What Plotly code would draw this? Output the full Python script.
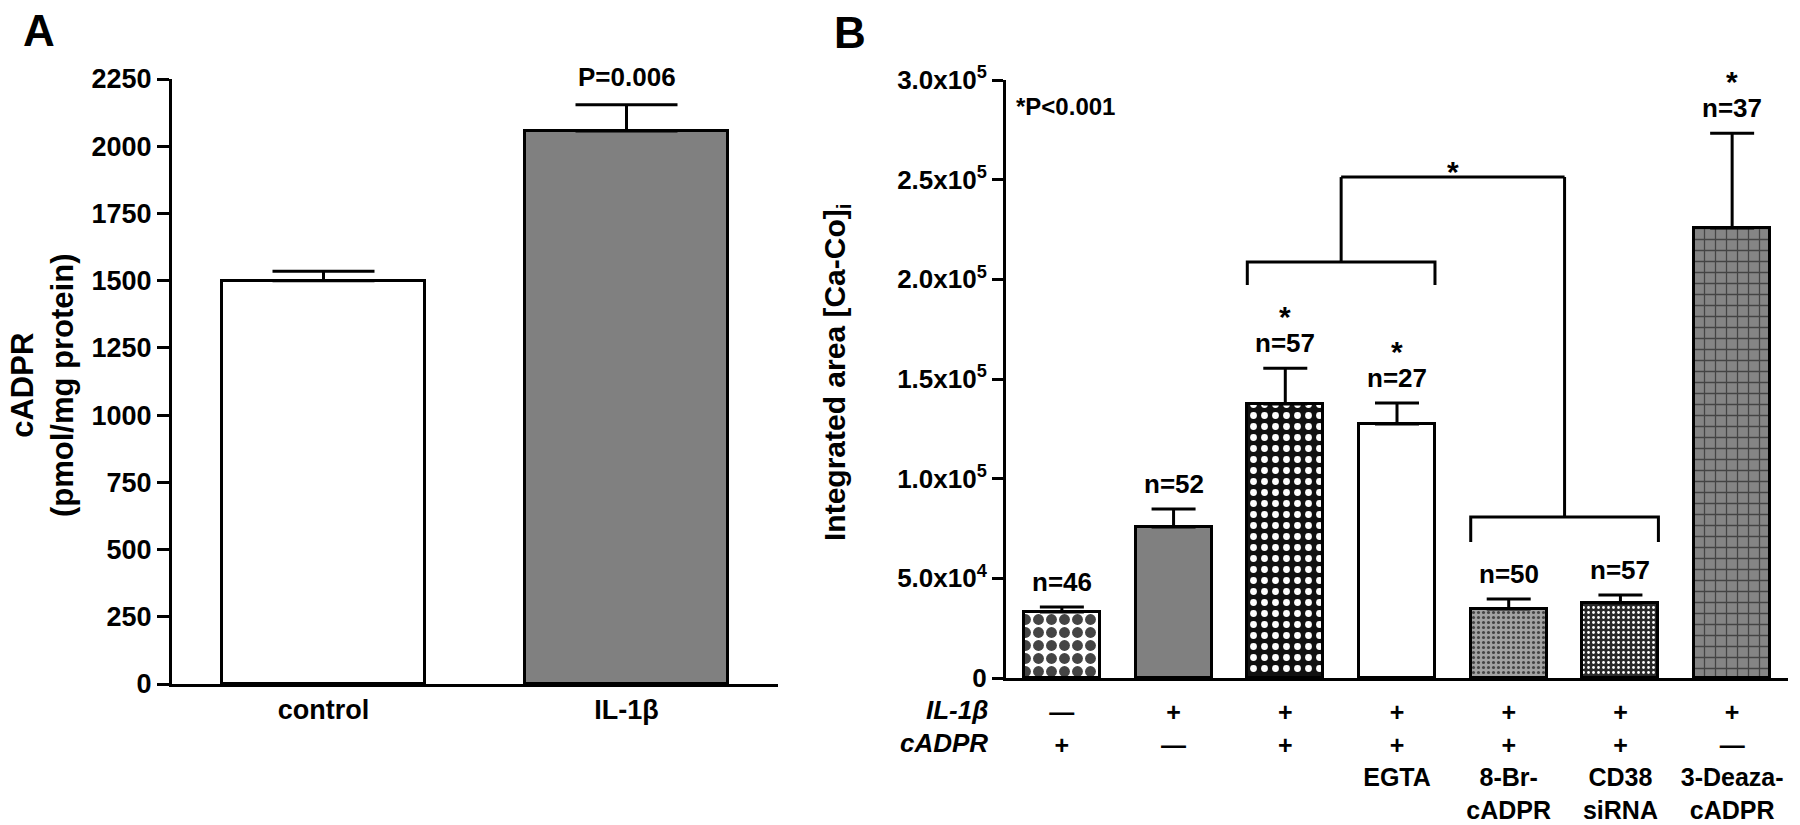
import plotly.graph_objects as go

# panel A data
groupsA = ['control', 'IL-1β']
meanA = [1500, 2057]
semA = [35, 97]
pLabelA = 'P=0.006'
ticksA = [0, 250, 500, 750, 1000, 1250, 1500, 1750, 2000, 2250]

# panel B data
meanB = [33100, 75700, 137400, 127400, 34600, 37600, 225700]
semB = [2500, 9100, 18000, 10500, 5000, 4000, 47600]
nLabels = ['n=46', 'n=52', 'n=57', 'n=27', 'n=50', 'n=57', 'n=37']
starred = [False, False, True, True, False, False, True]
il1b = ['—', '+', '+', '+', '+', '+', '+']
cadpr = ['+', '—', '+', '+', '+', '+', '—']
extra = ['', '', '', 'EGTA', '8-Br-<br>cADPR', 'CD38<br>siRNA', '3-Deaza-<br>cADPR']
ticksB = [0, 50000, 100000, 150000, 200000, 250000, 300000]
tickTextB = ['0', '5.0x10<sup>4</sup>', '1.0x10<sup>5</sup>', '1.5x10<sup>5</sup>',
             '2.0x10<sup>5</sup>', '2.5x10<sup>5</sup>', '3.0x10<sup>5</sup>']

# comparison brackets: (first bar, last bar), bar-level y, drop y
brackets = [(2, 3), (4, 5)]
bracketY = [208700, 80800]
bracketDrop = [197200, 68200]
bracketTop = 251300

FONT = 'Liberation Sans, Arial, sans-serif'
W, H = 1800, 825
barW = 0.68

fig = go.Figure()

fig.add_trace(go.Bar(
    x=[0, 1], y=meanA, width=0.667,
    marker=dict(color=['white', '#808080'], line=dict(color='black', width=3)),
    error_y=dict(type='data', symmetric=False, array=semA, arrayminus=[0, 0],
                 color='black', thickness=3, width=51),
    xaxis='x', yaxis='y', showlegend=False))

fig.add_trace(go.Bar(
    x=list(range(len(meanB))), y=meanB, width=barW,
    marker=dict(
        color=['white', '#808080', '#111111', 'white', '#a2a2a2', '#2a2a2a', '#858585'],
        line=dict(color='black', width=3),
        pattern=dict(
            shape=['.', '', '.', '', '.', '.', '+'],
            fgcolor=['black', '#808080', '#6a6a6a', 'white', '#3a3a3a', '#9a9a9a', 'black'],
            fgopacity=1,
            size=[13, 8, 11, 8, 5, 5, 11],
            solidity=[0.55, 0.3, 0.3, 0.3, 0.3, 0.25, 0.22],
            fillmode='overlay')),
    error_y=dict(type='data', symmetric=False, array=semB, arrayminus=[0] * len(semB),
                 color='black', thickness=3, width=22),
    xaxis='x2', yaxis='y2', showlegend=False))


def txt(text, x, y, size, xref='paper', yref='paper', **kw):
    d = dict(text=text, x=x, y=y, xref=xref, yref=yref, showarrow=False,
             xanchor='center', yanchor='middle',
             font=dict(size=size, family=FONT, color='black'))
    d.update(kw)
    return d


ann = []
# panel letters
ann.append(txt('<b>A</b>', 39 / W, 1 - 30 / H, 44))
ann.append(txt('<b>B</b>', 850 / W, 1 - 32 / H, 44))
# y titles
ann.append(txt('<b>cADPR<br>(pmol/mg protein)</b>', 42 / W, 1 - 386 / H, 31, textangle=-90))
ann.append(txt('<b>Integrated area [Ca-Co]<sub>i</sub></b>', 836 / W, 1 - 372 / H, 30,
               textangle=-90))
# P value panel A
ann.append(txt('<b>' + pLabelA + '</b>', 1, meanA[1] + semA[1], 26, 'x', 'y', yshift=28))
# P note panel B
ann.append(txt('<b>*P<0.001</b>', 1014 / W, 1 - 107 / H, 24, xanchor='left'))
# n labels and stars
for i, (m, s) in enumerate(zip(meanB, semB)):
    ann.append(txt('<b>' + nLabels[i] + '</b>', i, m + s, 26, 'x2', 'y2', yshift=25))
    if starred[i]:
        ann.append(txt('<b>*</b>', i, m + s, 30, 'x2', 'y2', yshift=52))
# row headers
for label, py in [('IL-1β', 710), ('cADPR', 743)]:
    ann.append(txt('<b><i>' + label + '</i></b>', 990 / W, 1 - py / H, 26, xanchor='right'))

# brackets
shapes = []
mids = []
for (a, b), yb, yd in zip(brackets, bracketY, bracketDrop):
    x0 = a - barW / 2
    x1 = b + barW / 2
    mids.append((x0 + x1) / 2)
    shapes.append(dict(type='path', xref='x2', yref='y2',
                       path=f'M {x0} {yd} L {x0} {yb} L {x1} {yb} L {x1} {yd}',
                       line=dict(color='black', width=3)))
    shapes.append(dict(type='line', xref='x2', yref='y2', x0=mids[-1], x1=mids[-1],
                       y0=yb, y1=bracketTop, line=dict(color='black', width=3)))
shapes.append(dict(type='line', xref='x2', yref='y2', x0=mids[0], x1=mids[1],
                   y0=bracketTop, y1=bracketTop, line=dict(color='black', width=3)))
ann.append(txt('<b>*</b>', sum(mids) / 2, bracketTop, 30, 'x2', 'y2', yshift=6))

tickTextX = [f'{a}<br>{c}' + ('<br>' + e if e else '') for a, c, e in zip(il1b, cadpr, extra)]

axis_common = dict(showline=True, linecolor='black', linewidth=3, showgrid=False,
                   zeroline=False, color='black', automargin=False)

fig.update_layout(
    template='none',
    width=W, height=H, margin=dict(l=0, r=0, t=0, b=0, pad=0),
    paper_bgcolor='white', plot_bgcolor='white',
    font=dict(family=FONT, color='black', weight='bold'),
    bargap=0,
    xaxis=dict(domain=[172 / W, 778 / W], range=[-0.5, 1.5], anchor='y',
               tickvals=[0, 1], ticktext=groupsA, ticks='',
               tickfont=dict(size=27, family=FONT, weight='bold'), **axis_common),
    yaxis=dict(domain=[1 - 684 / H, 1 - 79 / H], range=[0, 2250], anchor='x',
               tickvals=ticksA, ticks='outside', ticklen=12, tickwidth=3, tickcolor='black',
               tickfont=dict(size=27, family=FONT, weight='bold'), **axis_common),
    xaxis2=dict(domain=[1006 / W, 1788 / W], range=[-0.5, 6.5], anchor='y2',
                tickvals=list(range(len(meanB))), ticktext=tickTextX, ticks='',
                ticklabelstandoff=10,
                tickfont=dict(size=25, family=FONT, weight='bold'), **axis_common),
    yaxis2=dict(domain=[1 - 678 / H, 1 - 80 / H], range=[0, 300000], anchor='x2',
                tickvals=ticksB, ticktext=tickTextB, ticks='outside', ticklen=11,
                tickwidth=3, tickcolor='black',
                tickfont=dict(size=26, family=FONT, weight='bold'), **axis_common),
    annotations=ann, shapes=shapes)

# drop the default page margin so the figure sits at the window's corner
fig.write_html('out.html', config={'displayModeBar': False},
               post_script="document.body.style.margin = '0';")
